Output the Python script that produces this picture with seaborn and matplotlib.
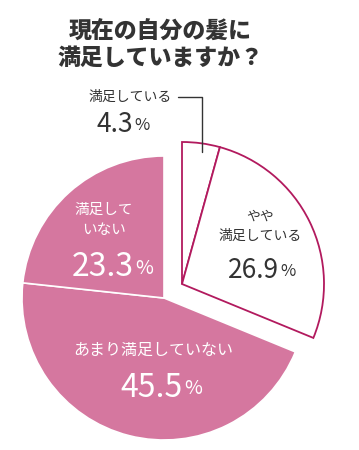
import numpy as np
import matplotlib
matplotlib.use("Agg")
import matplotlib.pyplot as plt
import seaborn as sns

# datos del grafico
labels = ["満足している", "やや\n満足している", "あまり満足していない", "満足して\nいない"]
values = [4.3, 26.9, 45.5, 23.3]
pct_text = ["4.3", "26.9", "45.5", "23.3"]
title = "現在の自分の髪に\n満足していますか？"

PINK = "#d5779f"
EDGE = "#b21a5e"
DARK = "#333333"

sns.set_theme(style="white")
plt.rcParams["font.family"] = ["Noto Sans CJK JP", "DejaVu Sans"]

W, H = 359, 450
fig = plt.figure(figsize=(W / 100, H / 100), dpi=100)
ax = fig.add_axes([0, 0, 1, 1])

# coordenadas en pixeles (y hacia arriba)
def py(y):
    return H - y

center = (164, py(298))
radius = 142
wedges, _ = ax.pie(values, startangle=90, counterclock=False, center=center,
                   radius=radius, colors=[PINK] * 4, frame=True,
                   wedgeprops=dict(edgecolor="white", linewidth=1.2))

# las dos porciones blancas van desplazadas juntas
shift = (18, 14)
for w in wedges[:2]:
    w.set_center((center[0] + shift[0], center[1] + shift[1]))
    w.set_facecolor("white")
    w.set_edgecolor(EDGE)
    w.set_linewidth(1.3)
    w.set_zorder(3)

ax.set_xlim(0, W)
ax.set_ylim(0, H)
ax.set_aspect("equal")
ax.axis("off")

# titulo
ax.text(160, py(45), title, ha="center", va="center", fontsize=16.5,
        fontweight="heavy", color=DARK, linespacing=1.2)

def pct(x, y, num, size, psize, color):
    ax.text(x, py(y), num, ha="right", va="center", fontsize=size, color=color, zorder=5)
    ax.text(x + 1, py(y + 1), "%", ha="left", va="center", fontsize=psize, color=color, zorder=5)

# 満足している
ax.text(89, py(97), labels[0], ha="left", va="center", fontsize=10, color=DARK)
pct(133, 125, pct_text[0], 19, 12, DARK)
ax.plot([178, 202, 202], [py(97), py(97), py(152)], color=DARK, lw=1, zorder=6)

# やや満足している
ax.text(260, py(226), labels[1], ha="center", va="center", fontsize=10,
        color=DARK, linespacing=1.5, zorder=5)
pct(279, 271, pct_text[1], 19, 12, DARK)

# あまり満足していない
ax.text(153, py(350), labels[2], ha="center", va="center", fontsize=11.5, color="white")
pct(183, 388, pct_text[2], 23, 14, "white")

# 満足していない
ax.text(104, py(220), labels[3], ha="center", va="center", fontsize=10.5,
        color="white", linespacing=1.5)
pct(134, 267, pct_text[3], 23, 14, "white")

fig.savefig("out.png", dpi=100, facecolor="white")
